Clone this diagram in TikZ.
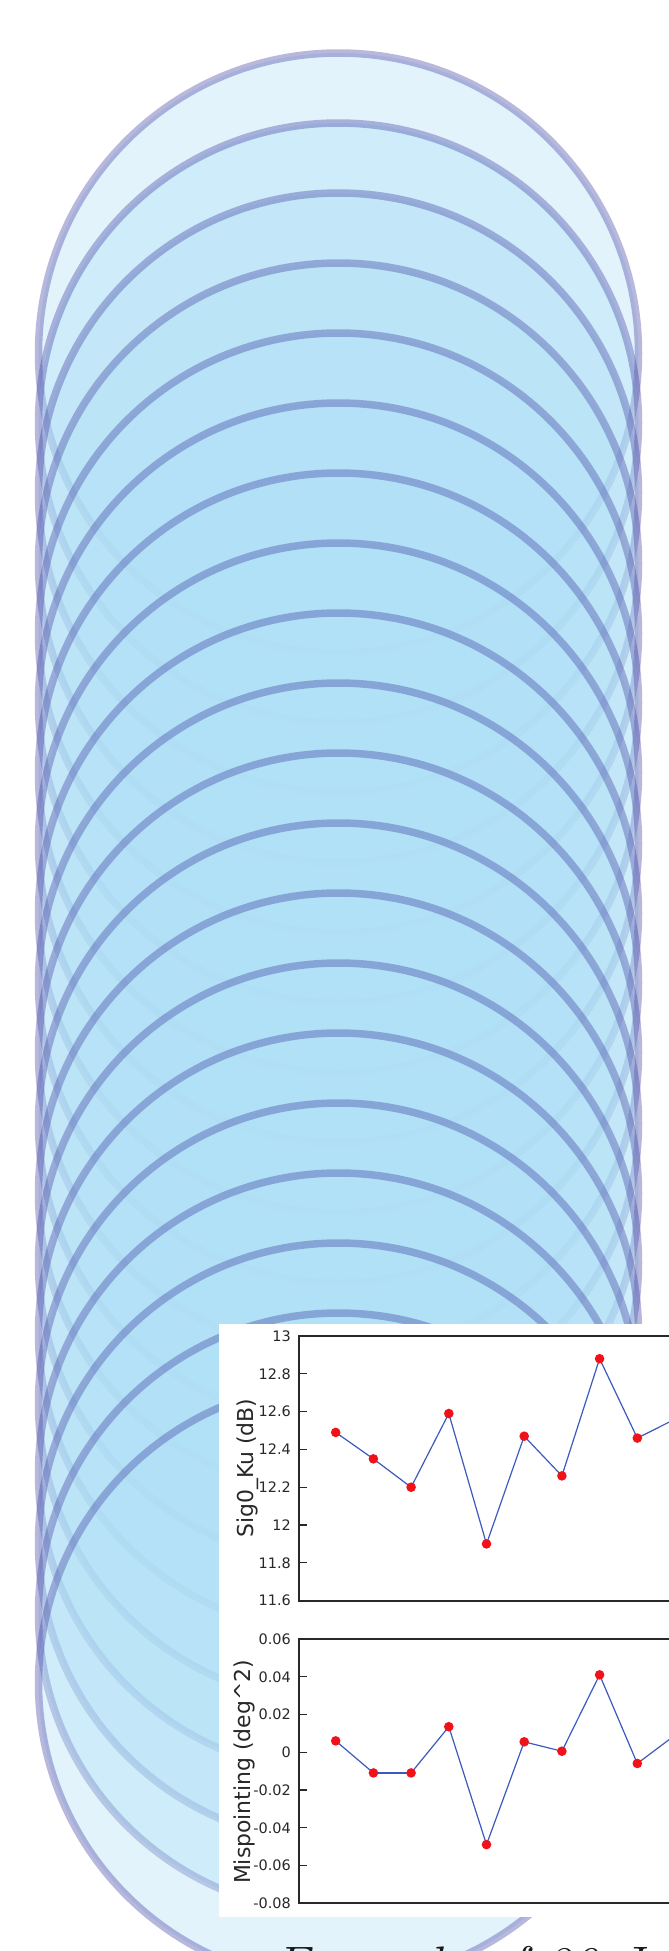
\documentclass[tikz,border=0pt]{standalone}
\usepackage{fontspec}
\setsansfont{DejaVu Sans}
\definecolor{burbuja}{RGB}{177,225,247}
\definecolor{borde}{RGB}{60,60,160}
\definecolor{linea}{RGB}{60,90,190}
\definecolor{punto}{RGB}{240,18,24}
\definecolor{eje}{RGB}{40,40,40}
\tikzset{
  burbuja/.style={fill=burbuja, fill opacity=0.37, draw=borde, draw opacity=0.36, line width=7.5bp},
  eje/.style={draw=eje, line width=1.8bp},
  rayita/.style={draw=eje, line width=1.2bp},
  serie/.style={draw=linea, line width=1.2bp},
  marca/.style={fill=punto},
  ticklab/.style={font=\sffamily\fontsize{14.5}{16}\selectfont, text=eje, anchor=east, inner sep=0pt},
  ylab/.style={font=\sffamily\fontsize{22}{24}\selectfont, text=eje, rotate=90, anchor=base, inner sep=0pt},
  pie/.style={font=\itshape\fontsize{53}{60}\selectfont, text=black!90, anchor=base west, inner sep=0pt}
}
\begin{document}
\begin{tikzpicture}[x=1bp, y=-1bp]
  \useasboundingbox (0,0) rectangle (669,1951);
  \clip (0,0) rectangle (669,1951);
  \fill[white] (0,0) rectangle (669,1951);

  % Pila de burbujas
  \foreach \k in {0,...,19}
    \filldraw[burbuja] (338.5,{353+70*\k}) circle (300);

  % Recuadro de la grafica
  \fill[white] (219,1324) rectangle (680,1917);

  % Panel superior: Sig0_Ku
  \draw[eje] (680,1336) -- (299,1336) -- (299,1601) -- (680,1601);
  \foreach \j/\t in {0/13,1/12.8,2/12.6,3/12.4,4/12.2,5/12,6/11.8,7/11.6} {
    \draw[rayita] (299,{1336+37.8*\j}) -- ++(8,0);
    \node[ticklab] (ta\j) at (291,{1336+37.8*\j}) {\t};
  }
  \node[ylab] (ylabA) at (253,1468) {Sig0\_Ku (dB)};
  \foreach \i/\v in {0/12.49,1/12.35,2/12.2,3/12.59,4/11.9,5/12.47,6/12.26,7/12.88,8/12.46,9/12.56}
    \coordinate (a\i) at ({335.7+37.7*\i},{1336+(13-\v)*189});
  \foreach \i [count=\n] in {0,...,8}
    \draw[serie] (a\i) -- (a\n);
  \foreach \i in {0,...,9}
    \fill[marca] (a\i) circle (4.8);

  % Panel inferior: Mispointing
  \draw[eje] (680,1639) -- (299,1639) -- (299,1903) -- (680,1903);
  \foreach \j/\t in {0/0.06,1/0.04,2/0.02,3/0,4/-0.02,5/-0.04,6/-0.06,7/-0.08} {
    \draw[rayita] (299,{1639+37.75*\j}) -- ++(8,0);
    \node[ticklab] (tb\j) at (291,{1639+37.75*\j}) {\t};
  }
  \node[ylab] (ylabB) at (250,1772) {Mispointing (deg\textasciicircum 2)};
  \foreach \i/\v in {0/0.006,1/-0.011,2/-0.011,3/0.0135,4/-0.049,5/0.0055,6/0.0005,7/0.041,8/-0.006,9/0.009}
    \coordinate (b\i) at ({335.7+37.7*\i},{1639+(0.06-\v)*1886});
  \foreach \i [count=\n] in {0,...,8}
    \draw[serie] (b\i) -- (b\n);
  \foreach \i in {0,...,9}
    \fill[marca] (b\i) circle (4.8);

  % Pie de figura (cortado)
  \node[pie] (pie) at (274,1983) {Example of 20 J};
\end{tikzpicture}
\end{document}
